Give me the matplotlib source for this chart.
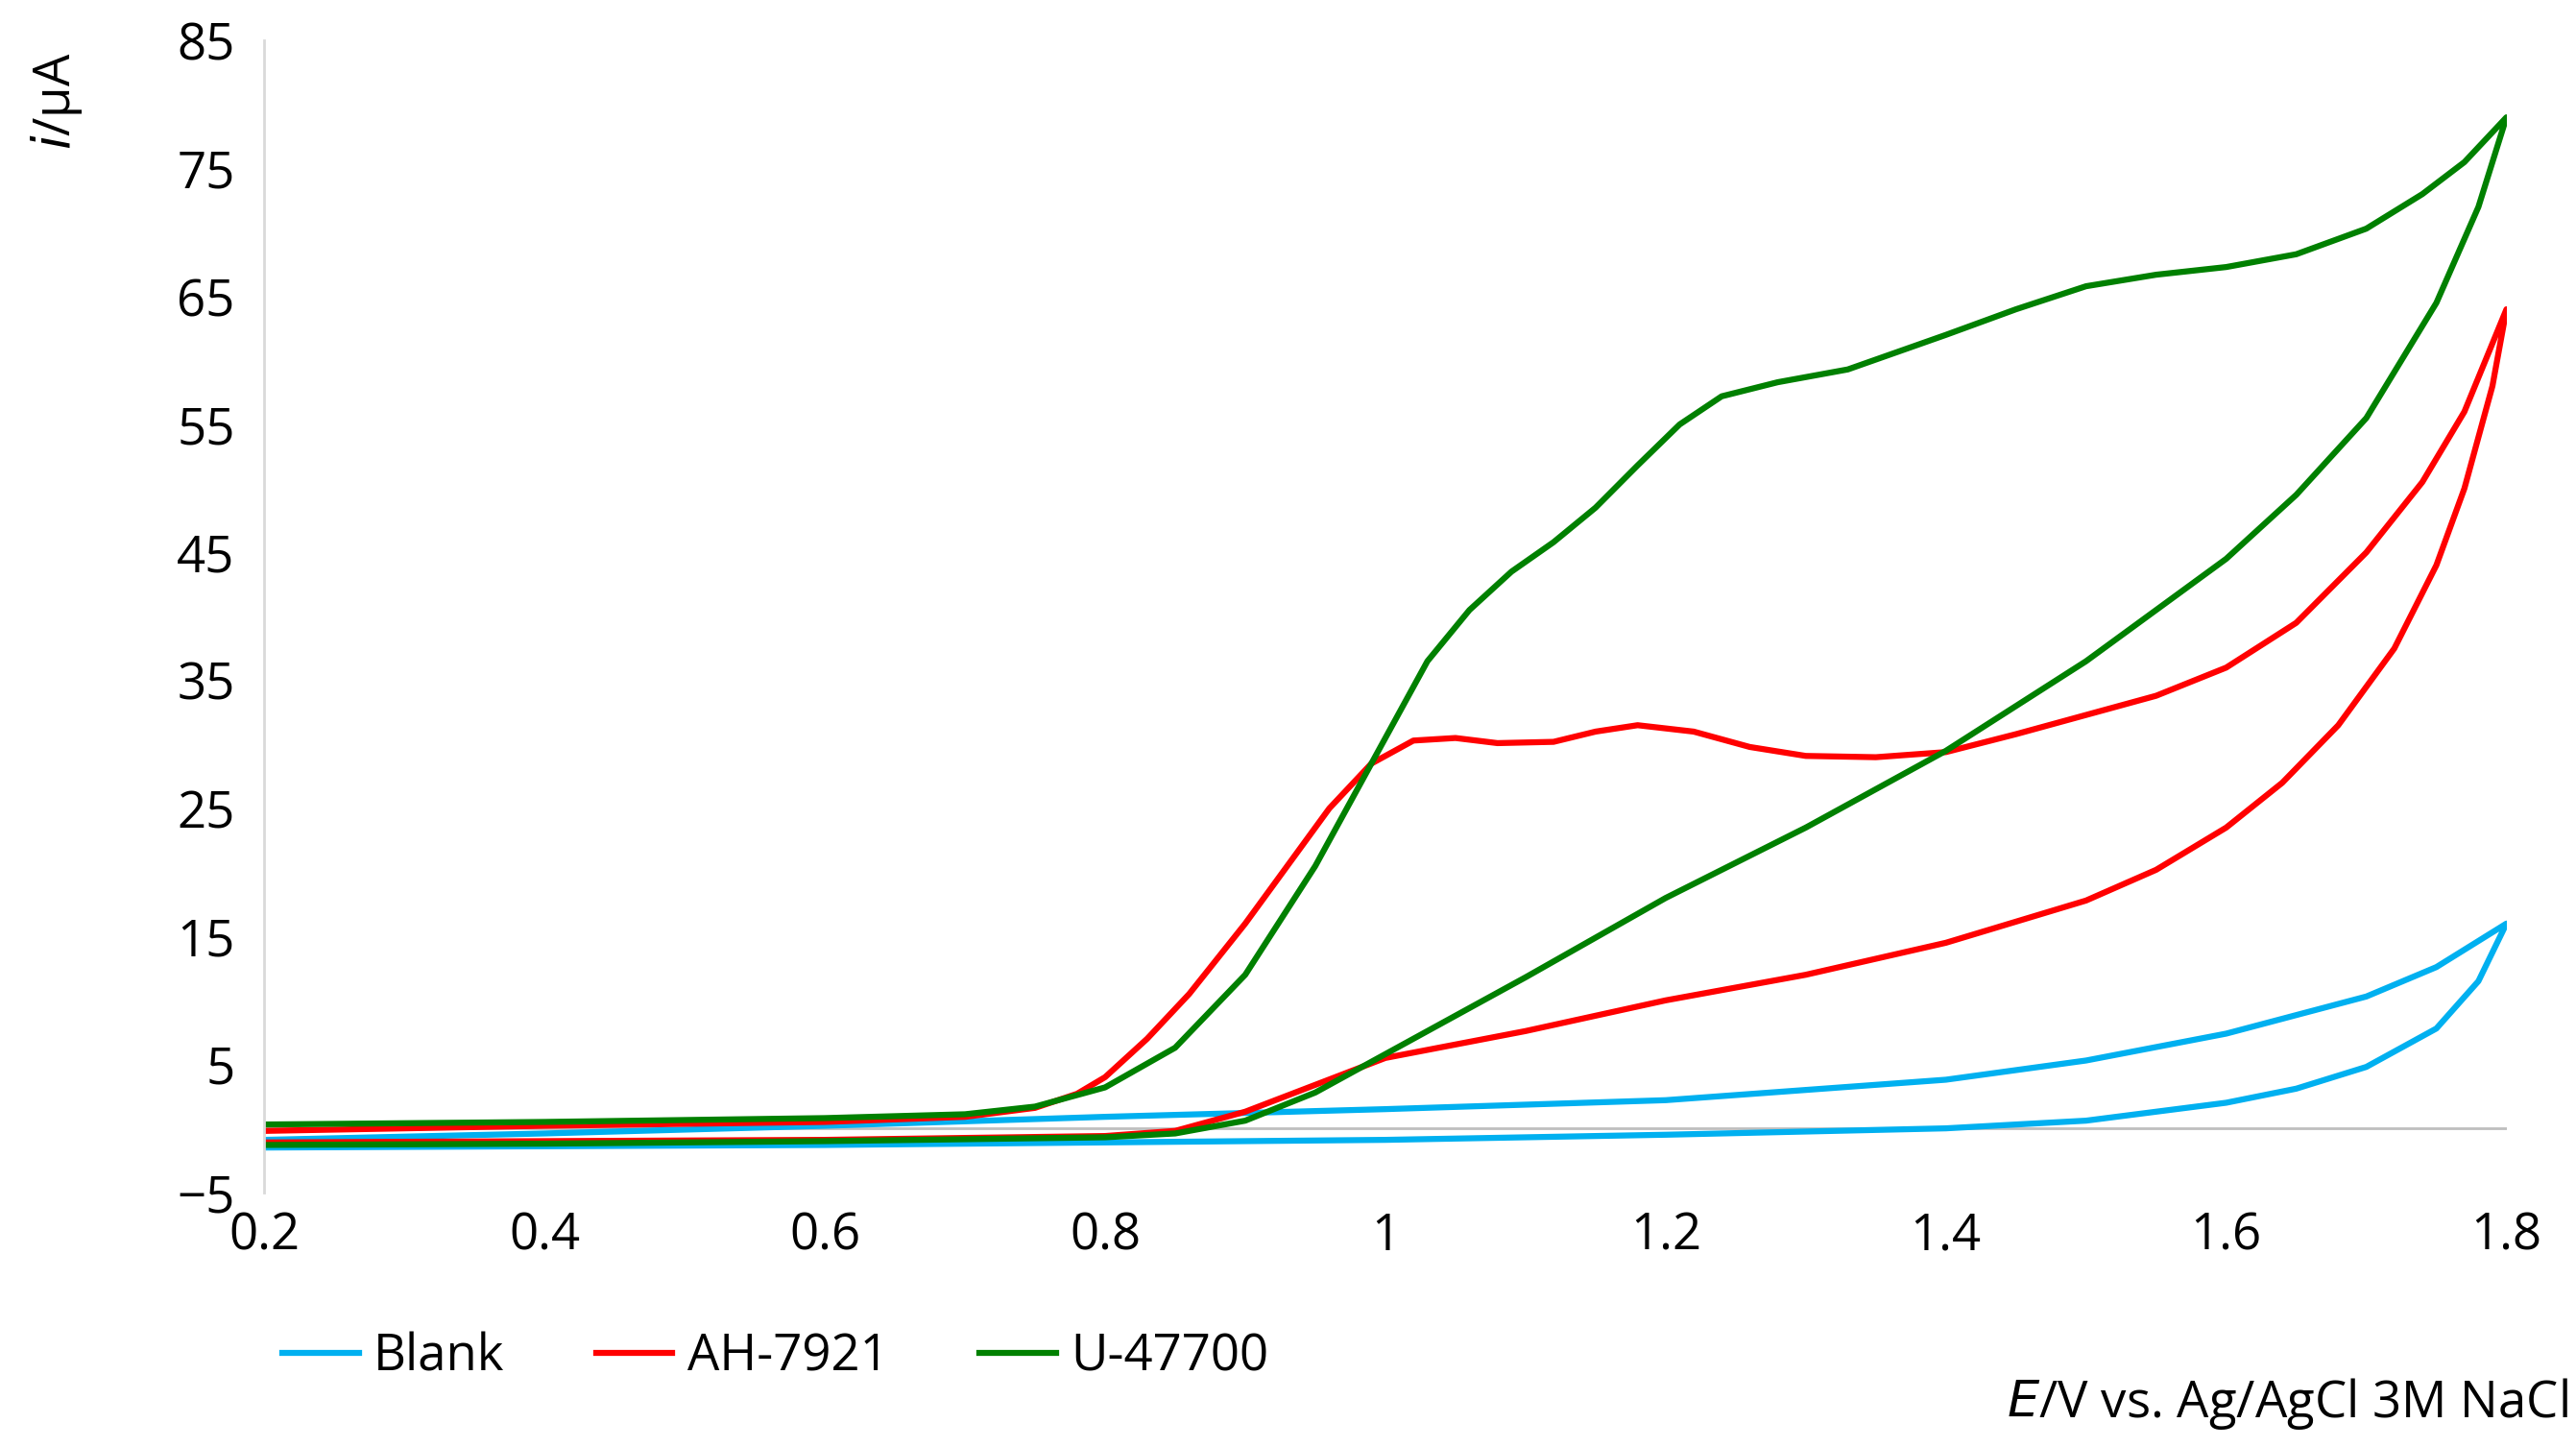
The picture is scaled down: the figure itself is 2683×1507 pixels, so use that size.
import matplotlib
matplotlib.use("Agg")
import matplotlib.pyplot as plt

plt.rcParams['font.family'] = ['Open Sans', 'DejaVu Sans']

blank_x = [0.2,0.4,0.6,0.8,1.0,1.2,1.4,1.5,1.6,1.7,1.75,1.8,1.78,1.75,1.7,1.65,1.6,1.5,1.4,1.2,1.0,0.8,0.6,0.4,0.2]
blank_y = [-0.9,-0.4,0.2,0.9,1.5,2.2,3.8,5.3,7.4,10.3,12.6,16,11.5,7.8,4.8,3.1,2.0,0.6,0.0,-0.5,-0.9,-1.1,-1.3,-1.4,-1.5]

ah_x = [0.2,0.4,0.6,0.7,0.75,0.78,0.8,0.83,0.86,0.9,0.93,0.96,0.99,1.02,1.05,1.08,1.12,1.15,1.18,1.22,1.26,1.3,1.35,1.4,1.45,1.5,1.55,1.6,1.65,1.7,1.74,1.77,1.8,
        1.79,1.77,1.75,1.72,1.68,1.64,1.6,1.55,1.5,1.4,1.3,1.2,1.1,1.0,0.95,0.9,0.85,0.8,0.6,0.4,0.2]
ah_y = [-0.2,0.2,0.5,0.9,1.6,2.7,4.0,7.0,10.5,16.0,20.5,25.0,28.5,30.3,30.5,30.1,30.2,31.0,31.5,31.0,29.8,29.1,29.0,29.4,30.8,32.3,33.8,36.0,39.5,45.0,50.5,56,64,
        58,50,44,37.5,31.5,27,23.5,20.2,17.8,14.5,12.0,10.0,7.6,5.5,3.4,1.3,-0.2,-0.6,-0.9,-1.0,-1.1]

u_x = [0.2,0.4,0.6,0.7,0.75,0.8,0.85,0.9,0.95,1.0,1.03,1.06,1.09,1.12,1.15,1.18,1.21,1.24,1.28,1.33,1.4,1.45,1.5,1.55,1.6,1.65,1.7,1.74,1.77,1.8,
       1.78,1.75,1.7,1.65,1.6,1.5,1.4,1.3,1.2,1.1,1.0,0.95,0.9,0.85,0.8,0.6,0.4,0.2]
u_y = [0.3,0.5,0.8,1.1,1.7,3.2,6.3,12.0,20.5,30.5,36.5,40.5,43.5,45.8,48.5,51.8,55.0,57.2,58.3,59.3,62.0,64.0,65.8,66.7,67.3,68.3,70.3,73.0,75.5,79,
       72,64.5,55.5,49.5,44.5,36.5,29.5,23.5,18.0,11.8,5.8,2.8,0.6,-0.4,-0.7,-1.0,-1.2,-1.3]

fig = plt.figure(figsize=(26.83, 15.07), dpi=100)
ax = fig.add_axes([0.1026, 0.176, 0.8704, 0.796])
lw = 4.5
ax.plot(blank_x, blank_y, color='#00B0F0', lw=lw, label='Blank', solid_joinstyle='round')
ax.plot(ah_x, ah_y, color='#FF0000', lw=lw, label='AH-7921', solid_joinstyle='round')
ax.plot(u_x, u_y, color='#008000', lw=lw, label='U-47700', solid_joinstyle='round')
ax.axhline(0, color='#BFBFBF', lw=2, zorder=0)
ax.set_xlim(0.2, 1.8)
ax.set_ylim(-5, 85)
ax.set_xticks([0.2,0.4,0.6,0.8,1.0,1.2,1.4,1.6,1.8])
ax.set_xticklabels(['0.2','0.4','0.6','0.8','1','1.2','1.4','1.6','1.8'])
ax.set_yticks(range(-5, 86, 10))
ax.set_yticklabels(['\u22125'] + [str(v) for v in range(5, 86, 10)])
for s in ['top', 'right', 'bottom']:
    ax.spines[s].set_visible(False)
ax.spines['left'].set_color('#D9D9D9')
ax.spines['left'].set_linewidth(2)
ax.tick_params(axis='x', length=0, labelsize=38, pad=14)
ax.tick_params(axis='y', length=0, labelsize=38, pad=22)
fig.text(0.022, 0.93, r'$i$/μA', rotation=90, fontsize=38, ha='center', va='center')
fig.text(0.997, 0.03, r'$E$/V vs. Ag/AgCl 3M NaCl', fontsize=38, ha='right', va='center')
fig.legend(loc='center left', bbox_to_anchor=(0.092, 0.062), ncol=3, frameon=False,
           fontsize=38, handlelength=1.5, columnspacing=1.8, handletextpad=0.3)
fig.savefig('out.png', dpi=100)
